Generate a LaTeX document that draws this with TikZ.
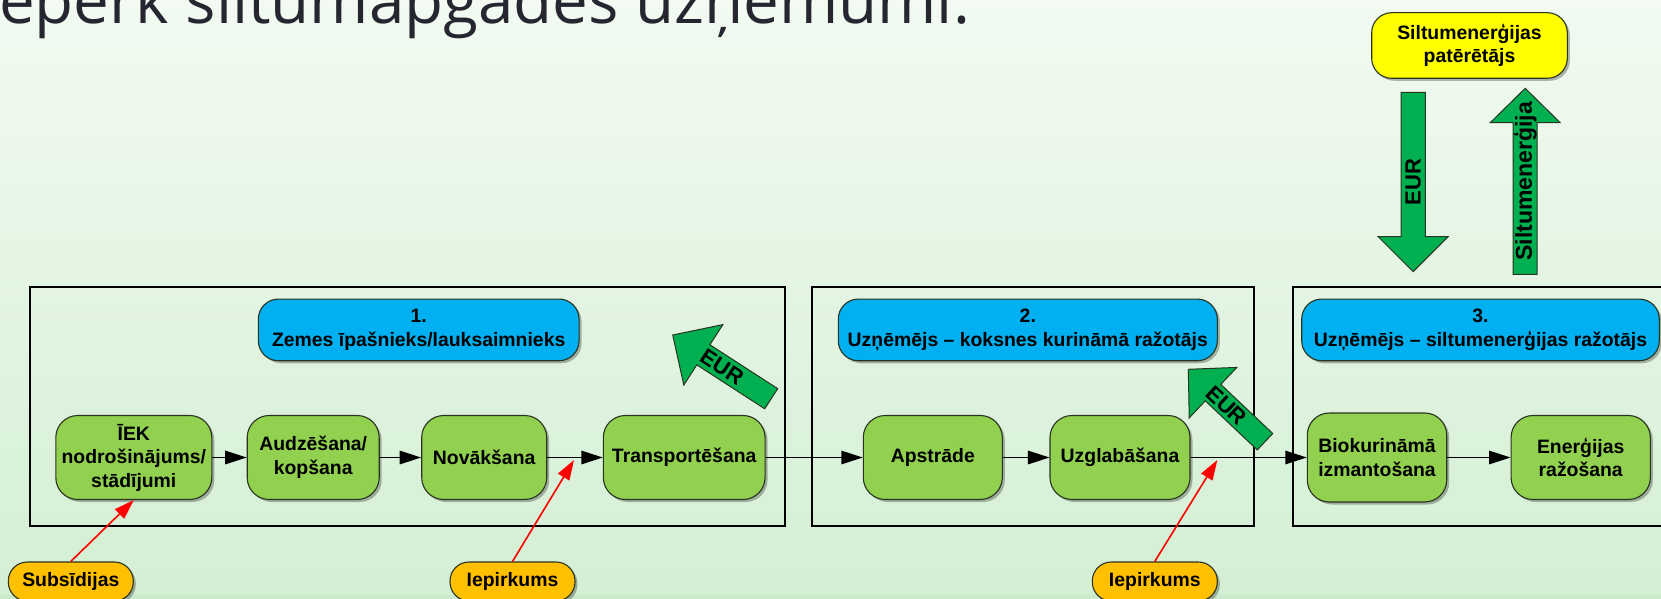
\documentclass[tikz,border=0pt]{standalone}
\usepackage{fontspec}
\setmainfont{Liberation Sans}
\newfontfamily\titlefont{Open Sans}
\usetikzlibrary{arrows.meta,calc,shadows}
\definecolor{procgreen}{HTML}{92D050}
\definecolor{hdrblue}{HTML}{00B0F0}
\definecolor{arrgreen}{HTML}{00B050}
\definecolor{payorange}{HTML}{FFC000}
\definecolor{consyellow}{HTML}{FFFF00}
\definecolor{edgedark}{HTML}{2A3320}
\definecolor{titlegray}{HTML}{262630}
\definecolor{bgtop}{HTML}{F2FAF1}
\definecolor{bgbot}{HTML}{D3EFD3}
\definecolor{bgband}{HTML}{CBE9CB}
\newcommand\blockarrow[5]{%
  \coordinate (#1-hb) at ($(#2)!#5!(#1)$);
  \filldraw[bigarrow] ($(#1)!#3!90:(#2)$) -- ($(#1-hb)!#3!90:(#2)$) -- ($(#1-hb)!#4!90:(#2)$) -- (#2)
    -- ($(#1-hb)!#4!-90:(#2)$) -- ($(#1-hb)!#3!-90:(#2)$) -- ($(#1)!#3!-90:(#2)$) -- cycle;}
\begin{document}
\begin{tikzpicture}[x=1pt,y=-1pt,
  shadowed/.style={drop shadow={shadow xshift=2.5pt,shadow yshift=-2.5pt,opacity=0.28,fill=black}},
  txt/.style={font=\fontsize{19.4}{23.5}\selectfont\bfseries, align=center, text=black},
  proc/.style={txt, shadowed, draw=edgedark, line width=1.1pt, fill=procgreen, rounded corners=22pt, minimum height=84pt, inner sep=0pt},
  hdr/.style={txt, shadowed, draw=edgedark, line width=1.1pt, fill=hdrblue, rounded corners=20pt, minimum height=61.7pt, inner sep=0pt},
  consumer/.style={txt, shadowed, draw=edgedark, line width=1.1pt, fill=consyellow, rounded corners=20pt, minimum width=195.6pt, minimum height=65.6pt, inner sep=0pt},
  payer/.style={txt, shadowed, draw=edgedark, line width=1.1pt, fill=payorange, rounded corners=19pt, minimum width=125pt, minimum height=39pt, inner sep=0pt},
  boxframe/.style={draw=black, line width=1.8pt},
  flow/.style={draw=black, line width=1.5pt, -{Triangle[length=21.5pt,width=13.5pt]}},
  fund/.style={draw=red, line width=1.6pt, -{Triangle[length=20pt,width=13pt]}},
  bigarrow/.style={fill=arrgreen, draw=edgedark, line width=1pt, line join=miter},
  arrowtxt/.style={font=\fontsize{22}{24}\selectfont\bfseries, text=black, inner sep=0pt}
]
\useasboundingbox (0,0) rectangle (1661,599);
\clip (0,0) rectangle (1661,599);
\shade[top color=bgtop, bottom color=bgbot] (0,0) rectangle (1661,599);
\fill[bgband] (0,595) rectangle (1661,599);

% title
\node[anchor=base west, inner sep=0pt, font=\titlefont\fontsize{63.7}{70}\selectfont, text=titlegray] (title) at (-1,24) {eperk siltumapgādes uzņēmumi.};

% frames
\draw[boxframe] (30,287.3) rectangle (785,525.7);
\draw[boxframe] (812.3,287.3) rectangle (1254.3,525.7);
\draw[boxframe] (1292.7,287.3) rectangle (1690,525.7);

% headers
\node[hdr, minimum width=320.7pt] (h1) at (418.7,329.9) {1.\\Zemes īpašnieks/lauksaimnieks};
\node[hdr, minimum width=379pt] (h2) at (1027.8,329.9) {2.\\Uzņēmējs – koksnes kurināmā ražotājs};
\node[hdr, minimum width=357.6pt] (h3) at (1480.5,329.9) {3.\\Uzņēmējs – siltumenerģijas ražotājs};

% process nodes
\node[proc, minimum width=156pt] (g1) at (133.8,457.5) {ĪEK\\nodrošinājums/\\stādījumi};
\node[proc, minimum width=132pt] (g2) at (313.2,457.5) {Audzēšana/\\kopšana};
\node[proc, minimum width=125pt] (g3) at (484.2,457.5) {Novākšana};
\node[proc, minimum width=161.7pt] (g4) at (684.2,457.5) {Transportēšana};
\node[proc, minimum width=139pt] (g5) at (932.8,457.5) {Apstrāde};
\node[proc, minimum width=140pt] (g6) at (1120,457.5) {Uzglabāšana};
\node[proc, minimum width=139.4pt, minimum height=89pt] (g7) at (1377,457.5) {Biokurināmā\\izmantošana};
\node[proc, minimum width=139.3pt] (g8) at (1580.7,457.5) {Enerģijas\\ražošana};

\draw[flow] (g1.east) -- (g2.west);
\draw[flow] (g2.east) -- (g3.west);
\draw[flow] (g3.east) -- (g4.west);
\draw[flow] (g4.east) -- (g5.west);
\draw[flow] (g5.east) -- (g6.west);
\draw[flow] (g6.east) -- (g7.west);
\draw[flow] (g7.east) -- (g8.west);

% consumer
\node[consumer] (cons) at (1469.5,45.5) {Siltumenerģijas\\patērētājs};

% payers
\node[payer] (y1) at (70.8,581.5) {Subsīdijas};
\node[payer] (y2) at (512.5,581.5) {Iepirkums};
\node[payer] (y3) at (1154.8,581.5) {Iepirkums};

\coordinate (r2tip) at (574,460);
\coordinate (r3tip) at (1217.3,460);
\draw[fund] (y1.north) -- (g1.south);
\draw[fund] (y2.north) -- (r2tip);
\draw[fund] (y3.north) -- (r3tip);

% big green arrows
\coordinate (aT) at (771.2,398.7);
\coordinate (aP) at (672.7,335);
\blockarrow{aT}{aP}{12pt}{36pt}{36.5pt}
\node[arrowtxt, rotate=-33] (eurA) at ($(aT)!0.5!(aP)$) {EUR};

\coordinate (bT) at (1265,441.7);
\coordinate (bP) at (1188.3,369.3);
\blockarrow{bT}{bP}{11.3pt}{34.7pt}{34pt}
\node[arrowtxt, rotate=-43.3] (eurB) at ($(bT)!0.5!(bP)$) {EUR};

\coordinate (cT) at (1413.2,92.3);
\coordinate (cP) at (1413.2,271.7);
\blockarrow{cT}{cP}{12.2pt}{35pt}{35pt}
\node[arrowtxt, rotate=90] (eurC) at ($(cT)!0.5!(cP)$) {EUR};

\coordinate (dT) at (1525.2,274.3);
\coordinate (dP) at (1525.2,88.3);
\blockarrow{dT}{dP}{12pt}{35pt}{34.4pt}
\node[arrowtxt, font=\fontsize{23}{25}\selectfont\bfseries, rotate=90] (heat) at ($(dT)!0.5!(dP)$) {Siltumenerģija};
\end{tikzpicture}
\end{document}
